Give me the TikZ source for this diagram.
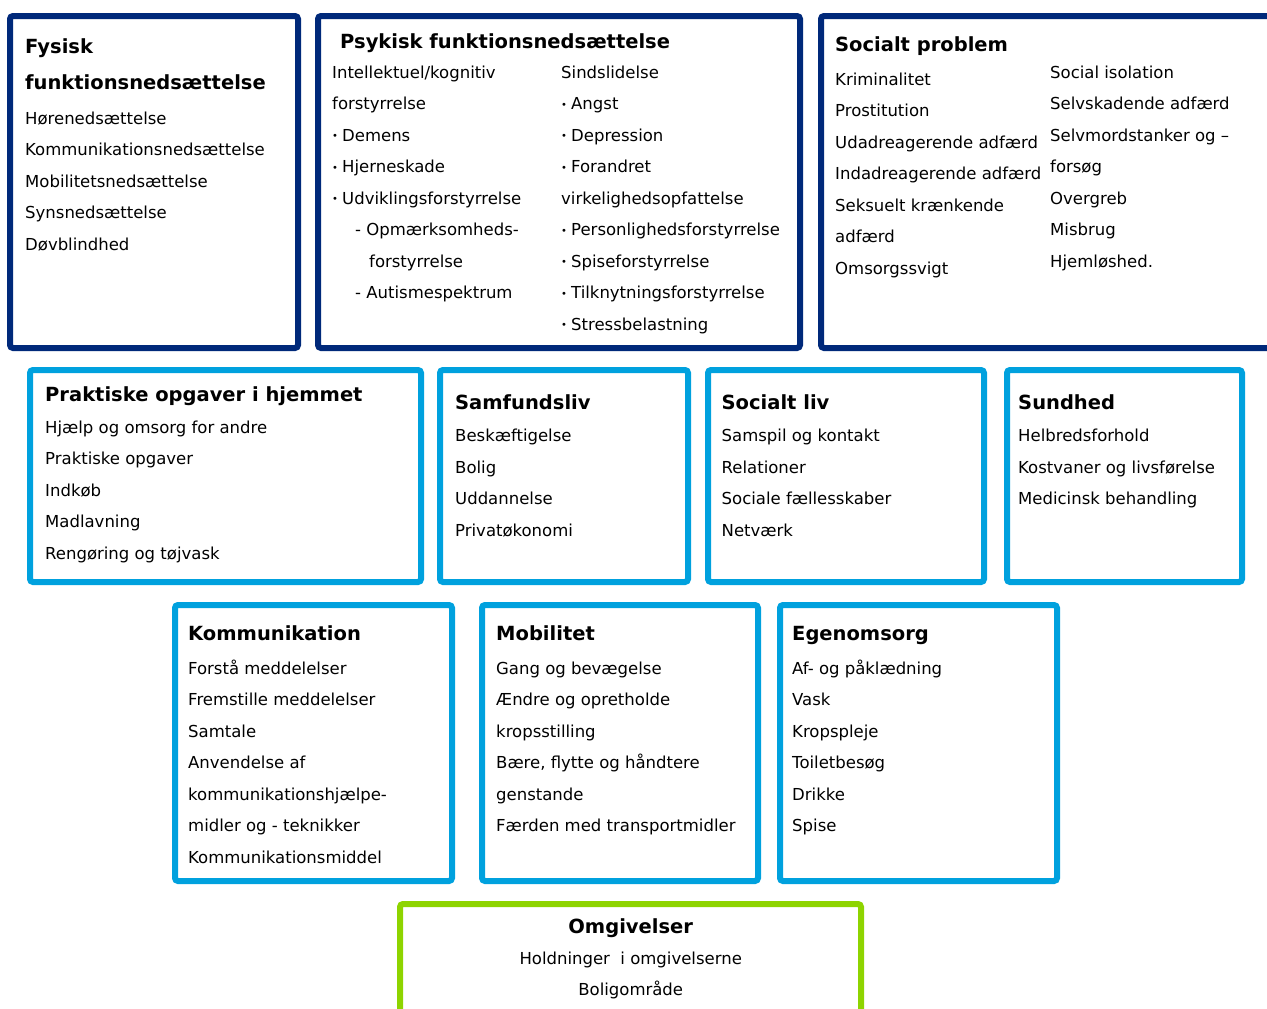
\documentclass[tikz,border=0pt]{standalone}
\usepackage{fontspec}
\setmainfont{DejaVu Sans}
\definecolor{navy}{HTML}{00297A}
\definecolor{sky}{HTML}{00A1DE}
\definecolor{lime}{HTML}{8ED400}
\newcommand\bul{\makebox[10pt][l]{\raisebox{1.6pt}{\fontsize{10}{10}\selectfont•}}}
\tikzset{
  frame/.style={line width=6pt, rounded corners=3pt, fill=none, inner sep=0pt, outer sep=0pt, anchor=north west},
  navyframe/.style={frame, draw=navy},
  skyframe/.style={frame, draw=sky},
  limeframe/.style={frame, draw=lime},
  ttl/.style={anchor=base west, inner sep=0pt, font=\fontsize{19.5}{22}\selectfont\bfseries},
  body/.style={anchor=base west, inner sep=0pt, font=\fontsize{16.5}{20}\selectfont},
  ctr/.style={anchor=base},
}
\newcommand\itemlist[4]{%
  \foreach \t [count=\i] in {#4} \node[body] (#1\i) at ({#2},{#3+31.5*(\i-1)}) {\t};}
\begin{document}
\begin{tikzpicture}[x=1pt,y=-1pt]
\useasboundingbox (0,0) rectangle (1267,1009);
\clip (0,0) rectangle (1267,1009);
% ---------- row 1 ----------
\node[navyframe, minimum width=288pt, minimum height=332pt] (fysbox) at (10,16) {};
\node[navyframe, minimum width=482pt, minimum height=332pt] (psybox) at (318,16) {};
\node[navyframe, minimum width=464pt, minimum height=332pt] (socbox) at (821,16) {};
% Fysisk
\node[ttl] (fysT1) at (25,53) {Fysisk};
\node[ttl] (fysT2) at (25,89) {funktionsnedsættelse};
\itemlist{fys}{25}{124}{Hørenedsættelse,Kommunikationsnedsættelse,Mobilitetsnedsættelse,Synsnedsættelse,Døvblindhed}
% Psykisk
\node[ttl] (psyT) at (340,48.3) {Psykisk funktionsnedsættelse};
\itemlist{psyL}{332}{78.3}{Intellektuel/kognitiv,forstyrrelse,\bul Demens,\bul Hjerneskade,\bul Udviklingsforstyrrelse}
\node[body] (psyL6) at (355,235.8) {- Opmærksomheds-};
\node[body] (psyL7) at (369,267.3) {forstyrrelse};
\node[body] (psyL8) at (355,298.8) {- Autismespektrum};
\itemlist{psyR}{561}{78.3}{Sindslidelse,\bul Angst,\bul Depression,\bul Forandret,virkelighedsopfattelse,\bul Personlighedsforstyrrelse,\bul Spiseforstyrrelse,\bul Tilknytningsforstyrrelse,\bul Stressbelastning}
% Socialt problem
\node[ttl] (socT) at (835,51.7) {Socialt problem};
\itemlist{socL}{835}{85}{Kriminalitet,Prostitution,Udadreagerende adfærd,Indadreagerende adfærd,Seksuelt krænkende,adfærd,Omsorgssvigt}
\itemlist{socR}{1050}{78.3}{Social isolation,Selvskadende adfærd,Selvmordstanker og –,forsøg,Overgreb,Misbrug,Hjemløshed.}
% ---------- row 2 ----------
\node[skyframe, minimum width=391pt, minimum height=212pt] (prabox) at (30,370) {};
\node[skyframe, minimum width=248pt, minimum height=212pt] (samfbox) at (440,370) {};
\node[skyframe, minimum width=276pt, minimum height=212pt] (slivbox) at (708,370) {};
\node[skyframe, minimum width=235pt, minimum height=212pt] (sundbox) at (1007,370) {};
\node[ttl] (praT) at (45,401.7) {Praktiske opgaver i hjemmet};
\itemlist{pra}{45}{433.3}{Hjælp og omsorg for andre,Praktiske opgaver,Indkøb,Madlavning,Rengøring og tøjvask}
\node[ttl] (samfT) at (455,409) {Samfundsliv};
\itemlist{samf}{455}{441.5}{Beskæftigelse,Bolig,Uddannelse,Privatøkonomi}
\node[ttl] (slivT) at (721.5,409) {Socialt liv};
\itemlist{sliv}{721.5}{441.5}{Samspil og kontakt,Relationer,Sociale fællesskaber,Netværk}
\node[ttl] (sundT) at (1018,409) {Sundhed};
\itemlist{sund}{1018}{441.5}{Helbredsforhold,Kostvaner og livsførelse,Medicinsk behandling}
% ---------- row 3 ----------
\node[skyframe, minimum width=277pt, minimum height=276pt] (kommbox) at (175,605) {};
\node[skyframe, minimum width=276pt, minimum height=276pt] (mobbox) at (482,605) {};
\node[skyframe, minimum width=277pt, minimum height=276pt] (egobox) at (780,605) {};
\node[ttl] (kommT) at (188,640.7) {Kommunikation};
\itemlist{komm}{188}{674}{Forstå meddelelser,Fremstille meddelelser,Samtale,Anvendelse af,kommunikationshjælpe-,midler og - teknikker,Kommunikationsmiddel}
\node[ttl] (mobT) at (496,640.7) {Mobilitet};
\itemlist{mob}{496}{674}{Gang og bevægelse,Ændre og opretholde,kropsstilling,{Bære, flytte og håndtere},genstande,Færden med transportmidler}
\node[ttl] (egoT) at (792,640.7) {Egenomsorg};
\itemlist{ego}{792}{674}{Af- og påklædning,Vask,Kropspleje,Toiletbesøg,Drikke,Spise}
% ---------- row 4 ----------
\node[limeframe, minimum width=461pt, minimum height=121pt] (omgbox) at (400,904) {};
\node[ttl, ctr] (omgT) at (630.7,933.3) {Omgivelser};
\node[body, ctr] (omg1) at (630.7,964.3) {Holdninger~ i omgivelserne};
\node[body, ctr] (omg2) at (630.7,995) {Boligområde};
\end{tikzpicture}
\end{document}
